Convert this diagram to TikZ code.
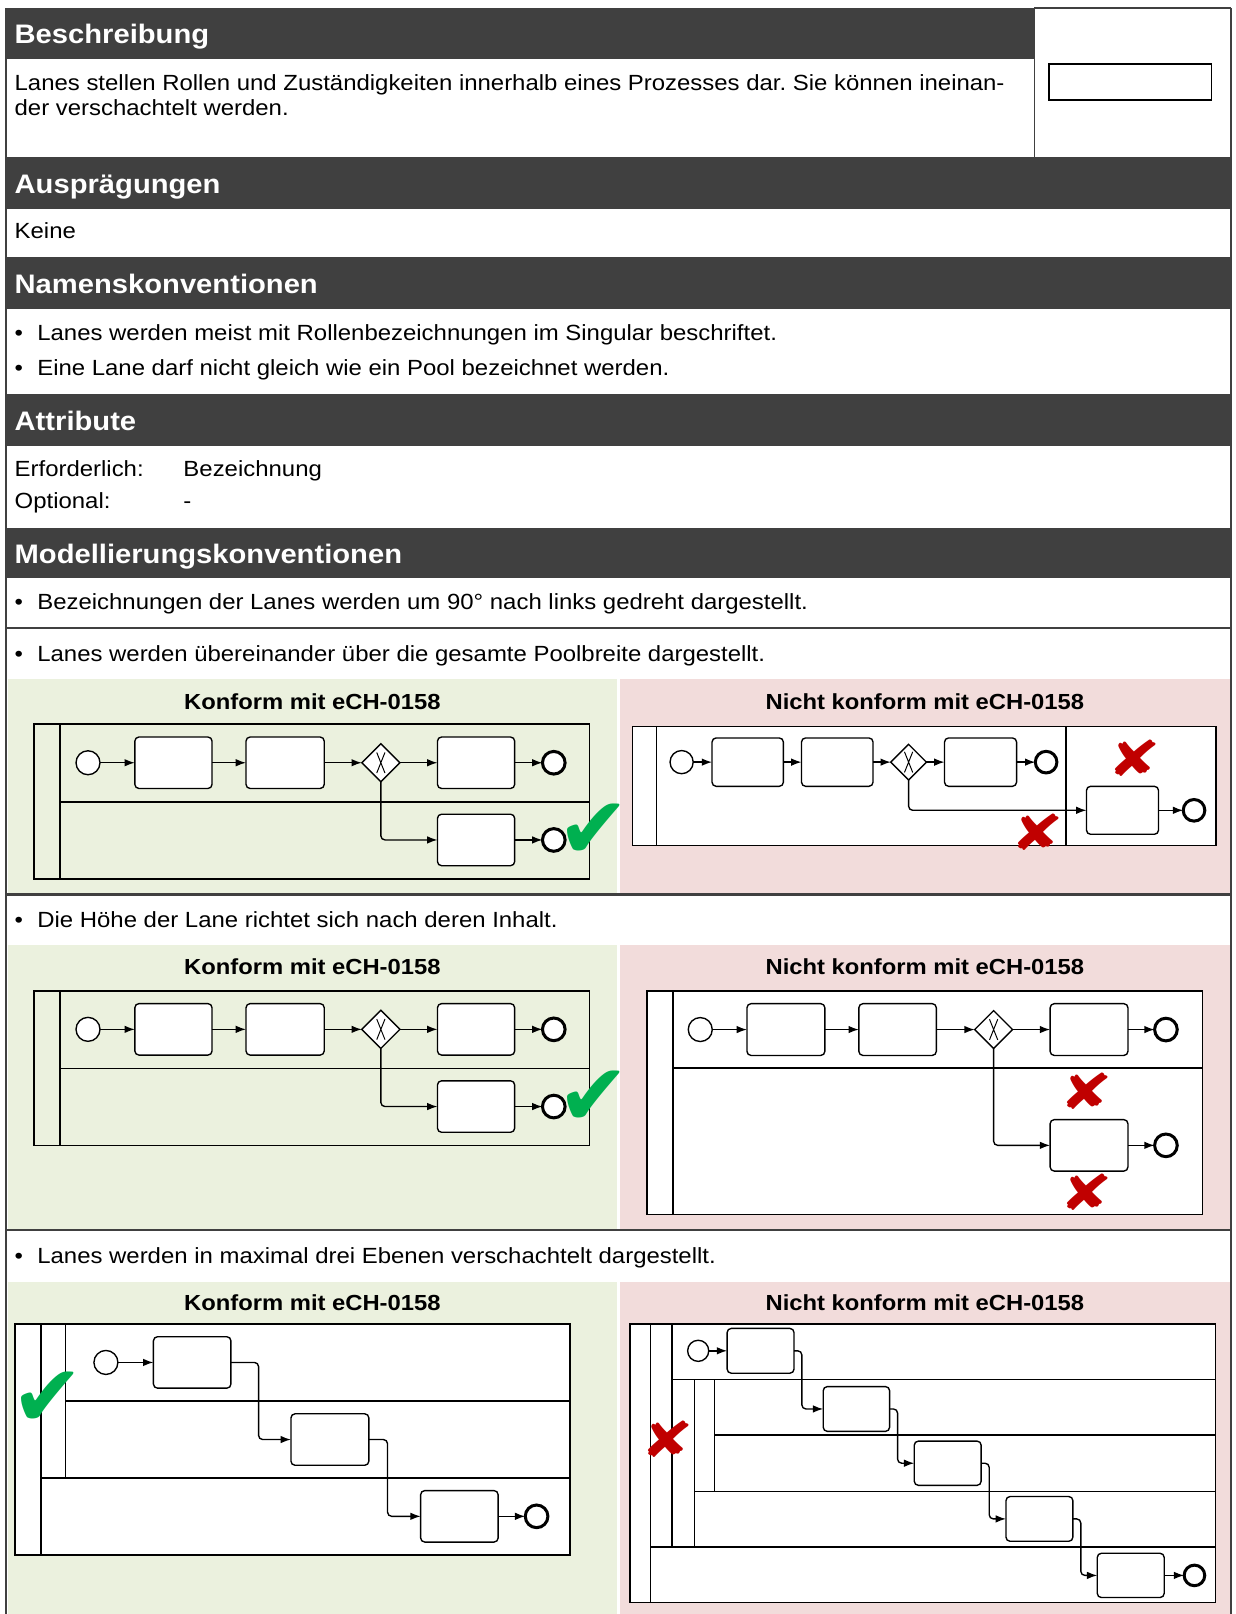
\documentclass[tikz,border=0pt]{standalone}
\usepackage{fontspec}
\setmainfont{Liberation Sans}[FakeStretch=1.09]
\newfontfamily\symfont{DejaVu Sans}
\usetikzlibrary{shapes.geometric,arrows.meta}
\definecolor{hdr}{HTML}{404040}
\definecolor{okbg}{HTML}{EBF1DE}
\definecolor{nokbg}{HTML}{F2DCDB}
\definecolor{okgreen}{HTML}{00B050}
\definecolor{nokred}{HTML}{C00000}
\frenchspacing

\newcommand\bpmntask[5]{\node[task,minimum width={#4*0.75pt},minimum height={#5*0.75pt}] (#1) at (#2,#3) {};}
\newcommand\bpmnstart[4]{\node[startev,minimum size={#4*0.75pt}] (#1) at (#2,#3) {};}
\newcommand\bpmnend[4]{\node[endev,minimum size={#4*0.75pt}] (#1) at (#2,#3) {};}
\newcommand\bpmngw[4]{\node[gw,minimum size={#4*0.75pt}] (#1) at (#2,#3) {};
  \draw[line width=0.7pt] ([shift={(-4,-10)}]#1.center) -- ([shift={(4,10)}]#1.center)
       ([shift={(4,-10)}]#1.center) -- ([shift={(-4,10)}]#1.center);}
\newcommand\redx{\scalebox{1.3}[1]{✘}}

\newcommand\leftexample[2]{%
\begin{scope}[shift={(0,#2)}]
\draw[pool] (33,703.5) rectangle (572.5,854);
\draw[pool] (58.4,703.5) -- (58.4,854) (58.4,779) -- (572.5,779);
\bpmnstart{#1s}{85.5}{741}{23.3}
\bpmntask{#1t1}{168.5}{741}{75}{50}
\bpmntask{#1t2}{277}{741}{76}{50}
\bpmngw{#1g}{370}{741}{37}
\bpmntask{#1t3}{462.5}{741}{75}{50}
\bpmnend{#1e}{538}{741}{22}
\bpmntask{#1t4}{462.5}{816}{75}{50}
\bpmnend{#1e2}{538}{816}{22}
\draw[flow] (#1s) -- (#1t1);
\draw[flow] (#1t1) -- (#1t2);
\draw[flow] (#1t2) -- (#1g);
\draw[flow] (#1g) -- (#1t3);
\draw[flow] (#1t3) -- (#1e);
\draw[flow] (#1g.south) |- (#1t4);
\draw[flow] (#1t4) -- (#1e2);
\node[chk] (#1ok) at (577,808) {✔};
\end{scope}}

\begin{document}
\begin{tikzpicture}[x=0.75pt,y=-0.75pt,
  hdrtext/.style={anchor=base west, inner sep=0, text=white, font=\fontsize{19.5}{23}\selectfont\bfseries},
  bodytext/.style={anchor=base west, inner sep=0, font=\fontsize{16}{19}\selectfont},
  paneltitle/.style={anchor=base, inner sep=0, font=\fontsize{15.9}{19}\selectfont\bfseries},
  frameline/.style={draw=hdr, line width=1.5pt},
  pool/.style={draw=black, line width=1.1pt},
  task/.style={draw, rounded corners=3pt, line width=1pt, fill=white, inner sep=0, outer sep=0},
  startev/.style={circle, draw, line width=1pt, fill=white, inner sep=0, outer sep=0},
  endev/.style={circle, draw, line width=2.2pt, fill=white, inner sep=0, outer sep=0},
  gw/.style={diamond, aspect=1, draw, line width=1pt, fill=white, inner sep=0, outer sep=0},
  flow/.style={-{Latex[length=7.5pt,width=5.5pt]}, line width=1pt, rounded corners=3pt},
  chk/.style={text=okgreen, inner sep=0, font=\symfont\fontsize{63}{63}\selectfont},
  nok/.style={text=nokred, inner sep=0, font=\symfont\fontsize{36}{36}\selectfont}]
\useasboundingbox (0,0) rectangle (1200,1568);
\fill[white] (0,0) rectangle (1200,1568);

% ---------- panels backgrounds ----------
\fill[okbg] (8,660) rectangle (599,868);
\fill[nokbg] (602,660) rectangle (1195,868);
\fill[okbg] (8,918) rectangle (599,1194);
\fill[nokbg] (602,918) rectangle (1195,1194);
\fill[okbg] (8,1245) rectangle (599,1568);
\fill[nokbg] (602,1245) rectangle (1195,1568);

% ---------- header bars ----------
\fill[hdr] (6,8) rectangle (1005,57.5);
\fill[hdr] (6,152.3) rectangle (1196,203.5);
\fill[hdr] (6,249.4) rectangle (1196,300);
\fill[hdr] (6,383) rectangle (1196,433);
\fill[hdr] (6,512.5) rectangle (1196,562);

% ---------- frame lines ----------
\draw[frameline] (6,8) -- (6,1568);
\draw[frameline] (1196,8) -- (1196,1568);
\draw[frameline] (1005,8) -- (1196,8);
\draw[draw=hdr, line width=1pt] (1005,8) -- (1005,152.3);
\draw[frameline] (6,610) -- (1196,610);
\draw[frameline] (6,869) -- (1196,869);
\draw[frameline] (6,1195) -- (1196,1195);

% lane symbol
\draw[line width=1.3pt] (1019,62) rectangle (1177,97);

% ---------- texts ----------
\node[hdrtext] (h1) at (14,42.5) {Beschreibung};
\node[bodytext] (d1) at (14,87.5) {Lanes stellen Rollen und Zuständigkeiten innerhalb eines Prozesses dar. Sie können ineinan-};
\node[bodytext] (d2) at (14,112.5) {der verschachtelt werden.};
\node[hdrtext] (h2) at (14,188) {Ausprägungen};
\node[bodytext] (a1) at (14,232) {Keine};
\node[hdrtext] (h3) at (14,285) {Namenskonventionen};
\node[bodytext] (nb1) at (14,330.5) {•};
\node[bodytext] (n1) at (36,330.5) {Lanes werden meist mit Rollenbezeichnungen im Singular beschriftet.};
\node[bodytext] (nb2) at (14,364.5) {•};
\node[bodytext] (n2) at (36,364.5) {Eine Lane darf nicht gleich wie ein Pool bezeichnet werden.};
\node[hdrtext] (h4) at (14,418) {Attribute};
\node[bodytext] (at1) at (14,463) {Erforderlich:};
\node[bodytext] (at2) at (178,463) {Bezeichnung};
\node[bodytext] (at3) at (14,494) {Optional:};
\node[bodytext] (at4) at (178,494) {-};
\node[hdrtext] (h5) at (14,547) {Modellierungskonventionen};
\node[bodytext] (mb1) at (14,592) {•};
\node[bodytext] (m1) at (36,592) {Bezeichnungen der Lanes werden um 90° nach links gedreht dargestellt.};
\node[bodytext] (mb2) at (14,643) {•};
\node[bodytext] (m2) at (36,643) {Lanes werden übereinander über die gesamte Poolbreite dargestellt.};
\node[bodytext] (mb3) at (14,901) {•};
\node[bodytext] (m3) at (36,901) {Die Höhe der Lane richtet sich nach deren Inhalt.};
\node[bodytext] (mb4) at (14,1227) {•};
\node[bodytext] (m4) at (36,1227) {Lanes werden in maximal drei Ebenen verschachtelt dargestellt.};

\node[paneltitle] (p1) at (303.5,689) {Konform mit eCH-0158};
\node[paneltitle] (p2) at (898.5,689) {Nicht konform mit eCH-0158};
\node[paneltitle] (p3) at (303.5,947) {Konform mit eCH-0158};
\node[paneltitle] (p4) at (898.5,947) {Nicht konform mit eCH-0158};
\node[paneltitle] (p5) at (303.5,1273) {Konform mit eCH-0158};
\node[paneltitle] (p6) at (898.5,1273) {Nicht konform mit eCH-0158};

% ---------- Example 1 & 2 left ----------
\leftexample{a}{0}
\leftexample{b}{259}

% ---------- Example 1 right ----------
\draw[pool, fill=white] (614.6,705.6) rectangle (1181.5,821.5);
\draw[pool] (638,705.6) -- (638,821.5) (1035.6,705.6) -- (1035.6,821.5);
\bpmnstart{cs}{662.2}{740.4}{22.5}
\bpmntask{ct1}{726.4}{740.4}{69.3}{47}
\bpmntask{ct2}{813.4}{740.4}{69.5}{47}
\bpmngw{cg}{882.7}{740.4}{34.6}
\bpmntask{ct3}{952.6}{740.4}{70}{47}
\bpmnend{ce}{1016.3}{740.4}{21}
\bpmntask{ct4}{1090.5}{787.2}{70}{46.6}
\bpmnend{ce2}{1160}{787.2}{21}
\draw[flow] (cs) -- (ct1);
\draw[flow] (ct1) -- (ct2);
\draw[flow] (ct2) -- (cg);
\draw[flow] (cg) -- (ct3);
\draw[flow] (ct3) -- (ce);
\draw[flow] (cg.south) |- (ct4);
\draw[flow] (ct4) -- (ce2);
\node[nok] (cx1) at (1101.7,736.3) {\redx};
\node[nok] (cx2) at (1007.8,808.2) {\redx};

% ---------- Example 2 right ----------
\draw[pool, fill=white] (628.4,962.7) rectangle (1168.2,1180.1);
\draw[pool] (653.7,962.7) -- (653.7,1180.1) (653.7,1037.6) -- (1168.2,1037.6);
\bpmnstart{ds}{680.3}{1000.2}{23.3}
\bpmntask{dt1}{763.5}{1000.2}{75.7}{50.3}
\bpmntask{dt2}{872}{1000.2}{75.3}{50.3}
\bpmngw{dg}{965.3}{1000.2}{36.8}
\bpmntask{dt3}{1058}{1000.2}{75.6}{50.3}
\bpmnend{de}{1132.7}{1000.2}{22}
\bpmntask{dt4}{1058}{1112.7}{75.6}{50}
\bpmnend{de2}{1132.7}{1112.7}{22}
\draw[flow] (ds) -- (dt1);
\draw[flow] (dt1) -- (dt2);
\draw[flow] (dt2) -- (dg);
\draw[flow] (dg) -- (dt3);
\draw[flow] (dt3) -- (de);
\draw[flow] (dg.south) |- (dt4);
\draw[flow] (dt4) -- (de2);
\node[nok] (dx1) at (1055.5,1060) {\redx};
\node[nok] (dx2) at (1055.5,1158.7) {\redx};

% ---------- Example 3 left ----------
\draw[pool, fill=white] (14.6,1286) rectangle (553.9,1510.9);
\draw[pool] (40,1286) -- (40,1510.9) (63.8,1286) -- (63.8,1435.7)
  (63.8,1361.2) -- (553.9,1361.2) (40,1435.7) -- (553.9,1435.7);
\bpmnstart{es}{102.9}{1323.6}{23.3}
\bpmntask{et1}{186.7}{1323.6}{75.3}{50}
\bpmntask{et2}{320.5}{1398.5}{75.7}{50}
\bpmntask{et3}{446.3}{1473.1}{75.3}{50}
\bpmnend{ee}{521.3}{1473.1}{22}
\draw[flow] (es) -- (et1);
\draw[flow] (et1.east) -- (251.2,1323.6) |- (et2.west);
\draw[flow] (et2.east) -- (376.5,1398.5) |- (et3.west);
\draw[flow] (et3) -- (ee);
\node[chk] (eok) at (46,1359) {✔};

% ---------- Example 3 right ----------
\draw[pool, fill=white] (612,1286) rectangle (1181,1557);
\draw[pool] (632,1286) -- (632,1557) (653,1286) -- (653,1503)
  (674.5,1340) -- (674.5,1503) (694,1340) -- (694,1449)
  (653,1340) -- (1181,1340) (694,1394) -- (1181,1394)
  (674.5,1449) -- (1181,1449) (632,1503) -- (1181,1503);
\bpmnstart{fs}{678.3}{1312.3}{20.5}
\bpmntask{ft1}{738.9}{1312.3}{65}{43.5}
\bpmntask{ft2}{832}{1368.8}{64.5}{43.5}
\bpmntask{ft3}{920.7}{1421.5}{65}{43}
\bpmntask{ft4}{1009.8}{1475.6}{65}{43.5}
\bpmntask{ft5}{1098.5}{1530.5}{65}{43}
\bpmnend{fe}{1160.4}{1530.5}{20}
\draw[flow] (fs) -- (ft1);
\draw[flow] (ft1.east) -- (779,1312.3) |- (ft2.west);
\draw[flow] (ft2.east) -- (872,1368.8) |- (ft3.west);
\draw[flow] (ft3.east) -- (961,1421.5) |- (ft4.west);
\draw[flow] (ft4.east) -- (1050,1475.6) |- (ft5.west);
\draw[flow] (ft5) -- (fe);
\node[nok] (fx) at (648.8,1397.8) {\redx};
\end{tikzpicture}
\end{document}
